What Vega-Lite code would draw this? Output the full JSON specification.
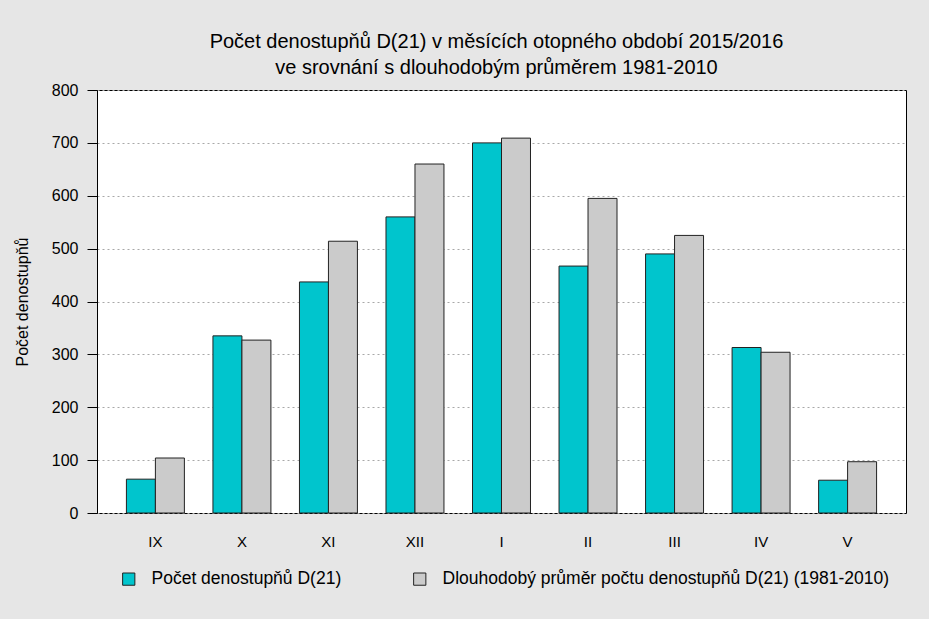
{
  "$schema": "https://vega.github.io/schema/vega-lite/v6.json",
  "autosize": {"type": "none"},
  "width": 809,
  "height": 423,
  "padding": {"left": 97, "top": 90, "right": 23, "bottom": 106},
  "background": "#e6e6e6",
  "title": {
    "text": ["Počet denostupňů D(21) v měsících otopného období 2015/2016", "ve srovnání s dlouhodobým průměrem 1981-2010"],
    "font": "Liberation Sans",
    "fontSize": 20,
    "fontWeight": "normal",
    "color": "#000000",
    "anchor": "middle",
    "dx": -5,
    "offset": 4,
    "lineHeight": 26
  },
  "data": {
    "values": [
      {"mesic": "IX", "rada": "Počet denostupňů D(21)", "hodnota": 64},
      {"mesic": "IX", "rada": "Dlouhodobý průměr počtu denostupňů D(21) (1981-2010)", "hodnota": 104},
      {"mesic": "X", "rada": "Počet denostupňů D(21)", "hodnota": 335},
      {"mesic": "X", "rada": "Dlouhodobý průměr počtu denostupňů D(21) (1981-2010)", "hodnota": 327},
      {"mesic": "XI", "rada": "Počet denostupňů D(21)", "hodnota": 437},
      {"mesic": "XI", "rada": "Dlouhodobý průměr počtu denostupňů D(21) (1981-2010)", "hodnota": 514},
      {"mesic": "XII", "rada": "Počet denostupňů D(21)", "hodnota": 560},
      {"mesic": "XII", "rada": "Dlouhodobý průměr počtu denostupňů D(21) (1981-2010)", "hodnota": 660},
      {"mesic": "I", "rada": "Počet denostupňů D(21)", "hodnota": 700},
      {"mesic": "I", "rada": "Dlouhodobý průměr počtu denostupňů D(21) (1981-2010)", "hodnota": 709},
      {"mesic": "II", "rada": "Počet denostupňů D(21)", "hodnota": 467},
      {"mesic": "II", "rada": "Dlouhodobý průměr počtu denostupňů D(21) (1981-2010)", "hodnota": 595},
      {"mesic": "III", "rada": "Počet denostupňů D(21)", "hodnota": 490},
      {"mesic": "III", "rada": "Dlouhodobý průměr počtu denostupňů D(21) (1981-2010)", "hodnota": 525},
      {"mesic": "IV", "rada": "Počet denostupňů D(21)", "hodnota": 313},
      {"mesic": "IV", "rada": "Dlouhodobý průměr počtu denostupňů D(21) (1981-2010)", "hodnota": 304},
      {"mesic": "V", "rada": "Počet denostupňů D(21)", "hodnota": 62},
      {"mesic": "V", "rada": "Dlouhodobý průměr počtu denostupňů D(21) (1981-2010)", "hodnota": 97}
    ]
  },
  "mark": {"type": "bar", "stroke": "#222222", "strokeWidth": 1},
  "encoding": {
    "x": {
      "field": "mesic",
      "type": "nominal",
      "sort": ["IX", "X", "XI", "XII", "I", "II", "III", "IV", "V"],
      "scale": {"paddingInner": 0.33, "paddingOuter": 0.34},
      "axis": {
        "title": null,
        "labelAngle": 0,
        "ticks": false,
        "tickSize": 0,
        "domain": false,
        "labelPadding": 21,
        "labelFont": "Liberation Sans",
        "labelFontSize": 15,
        "labelColor": "#000000"
      }
    },
    "xOffset": {
      "field": "rada",
      "type": "nominal",
      "sort": ["Počet denostupňů D(21)", "Dlouhodobý průměr počtu denostupňů D(21) (1981-2010)"]
    },
    "y": {
      "field": "hodnota",
      "type": "quantitative",
      "scale": {"domain": [0, 800], "nice": false},
      "axis": {
        "title": "Počet denostupňů",
        "titleFont": "Liberation Sans",
        "titleFontSize": 16,
        "titleFontWeight": "normal",
        "titleColor": "#000000",
        "titlePadding": 21,
        "values": [0, 100, 200, 300, 400, 500, 600, 700, 800],
        "labelFont": "Liberation Sans",
        "labelFontSize": 16,
        "labelColor": "#000000",
        "tickSize": 10,
        "tickColor": "#000000",
        "labelPadding": 9,
        "domainColor": "#000000",
        "grid": true,
        "gridColor": "#a8a8a8",
        "gridDash": [2, 3],
        "gridWidth": 1
      }
    },
    "color": {
      "field": "rada",
      "type": "nominal",
      "sort": ["Počet denostupňů D(21)", "Dlouhodobý průměr počtu denostupňů D(21) (1981-2010)"],
      "scale": {
        "domain": ["Počet denostupňů D(21)", "Dlouhodobý průměr počtu denostupňů D(21) (1981-2010)"],
        "range": ["#00c5cd", "#cbcbcb"]
      },
      "legend": {
        "title": null,
        "orient": "none",
        "direction": "horizontal",
        "legendX": 23,
        "legendY": 480,
        "symbolType": "square",
        "symbolSize": 150,
        "symbolStrokeColor": "#222222",
        "symbolStrokeWidth": 1,
        "labelFont": "Liberation Sans",
        "labelFontSize": 17.5,
        "labelColor": "#000000",
        "labelLimit": 600,
        "labelOffset": 14,
        "columnPadding": 69
      }
    }
  },
  "config": {
    "view": {"stroke": "#000000", "strokeWidth": 1, "fill": "#ffffff"}
  }
}
